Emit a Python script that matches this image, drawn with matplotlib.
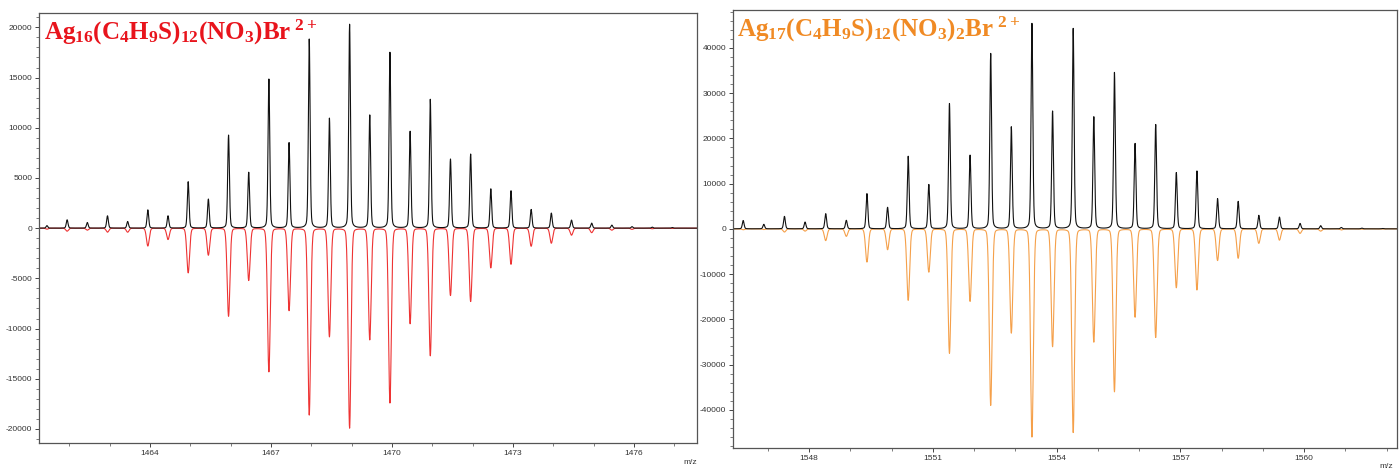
import numpy as np
import matplotlib
matplotlib.use("Agg")
import matplotlib.pyplot as plt
from matplotlib.ticker import MultipleLocator

plt.rcParams["font.family"] = ["Liberation Sans", "DejaVu Sans"]
plt.rcParams["axes.unicode_minus"] = False
plt.rcParams["mathtext.fontset"] = "custom"
plt.rcParams["mathtext.rm"] = "Liberation Serif:bold"
plt.rcParams["mathtext.bf"] = "Liberation Serif:bold"
plt.rcParams["mathtext.it"] = "Liberation Serif:bold"

# ---- peak lists (m/z, intensity) ----
# Ag16 cluster, 2+ (peaks every 0.5 m/z)
ag16_mz = [1461.45, 1461.95, 1462.45, 1462.95, 1463.45, 1463.95, 1464.45, 1464.95,
           1465.45, 1465.95, 1466.45, 1466.95, 1467.45, 1467.95, 1468.45, 1468.95,
           1469.45, 1469.95, 1470.45, 1470.95, 1471.45, 1471.95, 1472.45, 1472.95,
           1473.45, 1473.95, 1474.45, 1474.95, 1475.45, 1475.95, 1476.45, 1476.95]
ag16_exp = [250, 830, 560, 1230, 660, 1820, 1230, 4620,
            2890, 9260, 5550, 14840, 8500, 18820, 10930, 20290,
            11250, 17500, 9630, 12820, 6870, 7370, 3910, 3720,
            1860, 1500, 800, 500, 300, 150, 100, 60]
ag16_sim = [100, 300, 200, 400, 400, 1780, 1130, 4450,
            2690, 8770, 5200, 14300, 8200, 18600, 10800, 19900,
            11100, 17400, 9500, 12700, 6700, 7300, 3950, 3600,
            1800, 1500, 700, 450, 200, 120, 60, 30]

# Ag17 cluster, 2+
ag17_mz = [1546.40, 1546.90, 1547.40, 1547.90, 1548.40, 1548.90, 1549.40, 1549.90,
           1550.40, 1550.90, 1551.40, 1551.90, 1552.40, 1552.90, 1553.40, 1553.90,
           1554.40, 1554.90, 1555.40, 1555.90, 1556.40, 1556.90, 1557.40, 1557.90,
           1558.40, 1558.90, 1559.40, 1559.90, 1560.40, 1560.90, 1561.40, 1561.90]
ag17_exp = [1840, 1000, 2760, 1500, 3360, 1880, 7790, 4750,
            16040, 9780, 27700, 16260, 38760, 22520, 45400, 26000,
            44290, 24740, 34560, 18850, 23050, 12430, 12790, 6680,
            6080, 2990, 2600, 1200, 700, 300, 150, 80]
ag17_sim = [200, 150, 700, 500, 2600, 1650, 7340, 4600,
            15800, 9550, 27500, 16000, 39000, 23000, 46000, 26000,
            45000, 25000, 36000, 19500, 24000, 13000, 13500, 7000,
            6500, 3200, 2500, 1000, 500, 250, 100, 50]


def profile(x, centers, heights, fwhm, eta):
    # pseudo-voigt line shape for each stick
    y = np.zeros_like(x)
    s = fwhm / 2.3548
    g = fwhm / 2.0
    for c, h in zip(centers, heights):
        gauss = np.exp(-0.5 * ((x - c) / s) ** 2)
        lor = 1.0 / (1.0 + ((x - c) / g) ** 2)
        y += h * ((1 - eta) * gauss + eta * lor)
    return y


W, H = 1400, 470
fig = plt.figure(figsize=(14, 4.7), dpi=100)

panels = [
    dict(box=(39.3, 13.3, 697, 443), mz=ag16_mz, exp=ag16_exp, sim=ag16_sim,
         xlim=(1461.26, 1477.56), ylim=21400, major=5000, minor=1000,
         xt=[1464, 1467, 1470, 1473, 1476], col="#ee3333", tcol="#e8141c",
         title=r"$\mathbf{Ag_{16}(C_4H_9S)_{12}(NO_3)Br}^{\ \mathbf{2+}}$",
         tpos=(44, 40), mzpos=(690, 463)),
    dict(box=(733.3, 10, 1397, 447.7), mz=ag17_mz, exp=ag17_exp, sim=ag17_sim,
         xlim=(1546.16, 1562.25), ylim=48400, major=10000, minor=2000,
         xt=[1548, 1551, 1554, 1557, 1560], col="#f5a04a", tcol="#f08a24",
         title=r"$\mathbf{Ag_{17}(C_4H_9S)_{12}(NO_3)_2Br}^{\ \mathbf{2+}}$",
         tpos=(737, 37), mzpos=(1386, 466)),
]

for p in panels:
    x0, y0, x1, y1 = p["box"]
    ax = fig.add_axes([x0 / W, 1 - y1 / H, (x1 - x0) / W, (y1 - y0) / H])
    x = np.arange(p["xlim"][0], p["xlim"][1], 0.002)
    sim = profile(x, p["mz"], p["sim"], 0.08, 0.1)
    exp = profile(x, p["mz"], p["exp"], 0.05, 0.25)
    ax.plot(x, -sim, color=p["col"], lw=0.8)
    ax.plot(x, exp, color="#111111", lw=0.8)

    ax.set_xlim(*p["xlim"])
    ax.set_ylim(-p["ylim"], p["ylim"])
    ax.set_xticks(p["xt"])
    ax.xaxis.set_minor_locator(MultipleLocator(1))
    ax.yaxis.set_major_locator(MultipleLocator(p["major"]))
    ax.yaxis.set_minor_locator(MultipleLocator(p["minor"]))
    ax.tick_params(which="major", length=3, width=0.7, color="#444444",
                   labelsize=6, labelcolor="#333333", pad=2)
    ax.tick_params(which="minor", length=2, width=0.6, color="#666666")
    for sp in ax.spines.values():
        sp.set_color("#555555")
        sp.set_linewidth(0.9)

    fig.text(p["tpos"][0] / W, 1 - p["tpos"][1] / H, p["title"],
             color=p["tcol"], fontsize=18, ha="left", va="baseline")
    fig.text(p["mzpos"][0] / W, 1 - p["mzpos"][1] / H, "m/z",
             fontsize=6, color="#333333", ha="center", va="center")

fig.savefig("out.png", dpi=100)
